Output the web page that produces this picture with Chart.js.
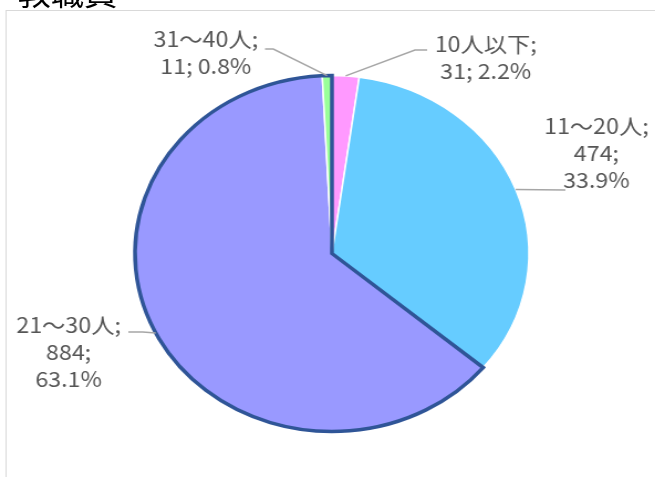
<!DOCTYPE html>
<html>
<head>
<meta charset="utf-8">
<script src="https://cdn.jsdelivr.net/npm/chart.js@4.4.1/dist/chart.umd.min.js"></script>
<style>
html, body { margin: 0; padding: 0; background: #fff; overflow: hidden; }
#stage { position: absolute; left: 0; top: 0; width: 592px; height: 477px; transform: scaleX(1.1065); transform-origin: 0 0; }
#title { position: absolute; left: 16px; top: -23px; font: 30px "Noto Sans CJK JP"; line-height: 30px; color: #000; white-space: nowrap; }
#frame { position: absolute; left: 5px; top: 10px; width: 640px; height: 520px; border: 1.5px solid #d9d9d9; }
#box { position: absolute; left: 0; top: 0; width: 592px; height: 477px; }
</style>
</head>
<body>
<div id="stage">
  <div id="title">教職員</div>
  <div id="frame"></div>
  <div id="box"><canvas id="pie"></canvas></div>
</div>
<script>
const categories = ['10人以下', '11～20人', '21～30人', '31～40人']
const counts = [31, 474, 884, 11]
const shares = [2.2, 33.9, 63.1, 0.8]

const fills = ['#FF99FF', '#66CCFF', '#9999FF', '#99FF99']
const outline = '#2F5597'
const textColor = '#555555'
const leaderColor = '#a6a6a6'

// where each data label sits and where its leader line starts
const labelLayout = [
    { x: 439, y: 44, wrap: false, from: [386, 50], elbow: [375, 50] },
    { x: 539, y: 126, wrap: true, from: [511, 190], elbow: null },
    { x: 62, y: 325, wrap: true, from: [116, 332], elbow: [129, 332] },
    { x: 186, y: 39, wrap: false, from: [239.5, 49], elbow: [247, 49] },
]

// dark outline round the 21～30人 slice together with the thin one next to it
const groupOutline = {
    id: 'groupOutline',
    afterDatasetsDraw(chart) {
        const arcs = chart.getDatasetMeta(0).data
        const a = arcs[2]
        const b = arcs[3]
        const ctx = chart.ctx
        ctx.save()
        ctx.beginPath()
        ctx.moveTo(a.x, a.y)
        ctx.arc(a.x, a.y, a.outerRadius, a.startAngle, b.endAngle)
        ctx.closePath()
        ctx.lineWidth = 3.5
        ctx.lineJoin = 'miter'
        ctx.strokeStyle = outline
        ctx.stroke()
        ctx.restore()
    },
}

const dataLabels = {
    id: 'dataLabels',
    afterDraw(chart) {
        const ctx = chart.ctx
        const arcs = chart.getDatasetMeta(0).data
        ctx.save()
        ctx.font = '21px "Noto Sans CJK JP"'
        ctx.fillStyle = textColor
        ctx.textAlign = 'center'
        ctx.textBaseline = 'middle'
        arcs.forEach((arc, i) => {
            const pos = labelLayout[i]
            const lines = pos.wrap
                ? [categories[i] + ';', counts[i] + ';', shares[i].toFixed(1) + '%']
                : [categories[i] + ';', counts[i] + '; ' + shares[i].toFixed(1) + '%']
            lines.forEach((t, k) => ctx.fillText(t, pos.x, pos.y + k * 27))

            const mid = (arc.startAngle + arc.endAngle) / 2
            const ex = arc.x + Math.cos(mid) * arc.outerRadius
            const ey = arc.y + Math.sin(mid) * arc.outerRadius
            ctx.beginPath()
            ctx.moveTo(pos.from[0], pos.from[1])
            if (pos.elbow) ctx.lineTo(pos.elbow[0], pos.elbow[1])
            ctx.lineTo(ex, ey)
            ctx.lineWidth = 1.5
            ctx.strokeStyle = leaderColor
            ctx.stroke()
        })
        ctx.restore()
    },
}

new Chart(document.getElementById('pie'), {
    type: 'pie',
    data: {
        labels: categories,
        datasets: [
            {
                data: counts,
                backgroundColor: fills,
                borderColor: '#ffffff',
                borderWidth: 1.5,
            },
        ],
    },
    options: {
        responsive: true,
        maintainAspectRatio: false,
        animation: false,
        events: [],
        radius: 178,
        layout: { padding: { left: 20, right: 12, top: 40, bottom: 10 } },
        plugins: {
            legend: { display: false },
            tooltip: { enabled: false },
        },
    },
    plugins: [groupOutline, dataLabels],
})
</script>
</body>
</html>
